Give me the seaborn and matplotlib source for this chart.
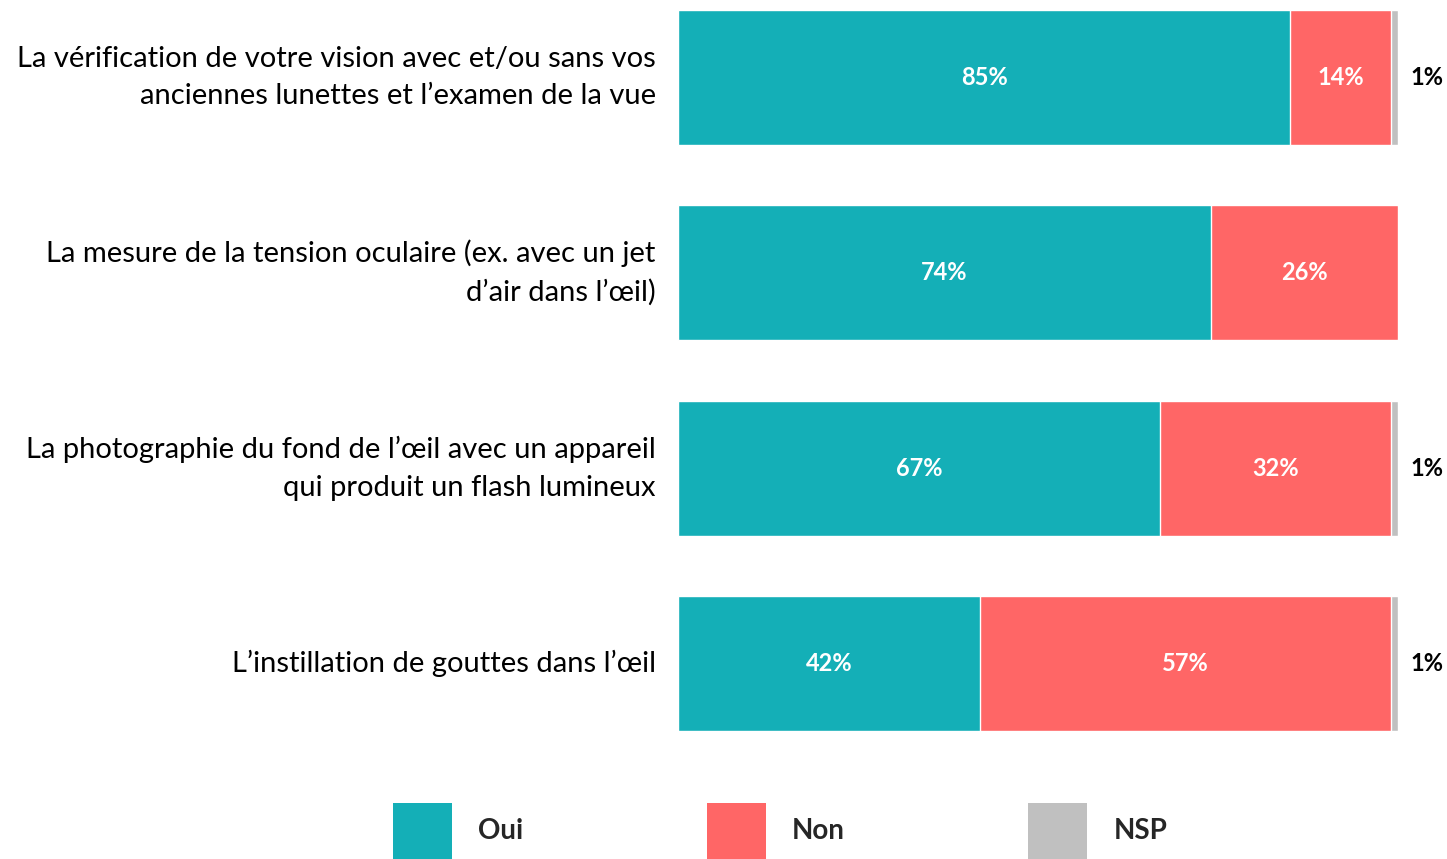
import numpy as np
import pandas as pd
import seaborn as sns
from matplotlib import pyplot as plt
from matplotlib.patches import Patch

# Data
categories = [
    "La vérification de votre vision avec et/ou sans vos\nanciennes lunettes et l’examen de la vue",
    "La mesure de la tension oculaire (ex. avec un jet\nd’air dans l’œil)",
    "La photographie du fond de l’œil avec un appareil\nqui produit un flash lumineux",
    "L’instillation de gouttes dans l’œil",
]
oui = [85, 74, 67, 42]
non = [14, 26, 32, 57]
nsp = [1, 0, 1, 1]
series_names = ["Oui", "Non", "NSP"]
colors = ["#14AFB7", "#FF6666", "#C0C0C0"]

sns.set_style("white")
plt.rcParams["font.family"] = ["Lato", "DejaVu Sans"]

df = pd.DataFrame({"cat": categories, "Oui": oui, "Non": non, "NSP": nsp})
df["cum_non"] = df["Oui"] + df["Non"]
df["cum_nsp"] = df["cum_non"] + df["NSP"]

fig = plt.figure(figsize=(14.47, 8.59), dpi=100)
ax = fig.add_axes([678 / 1447, 1 - 731 / 859, 720 / 1447, (731 - 10) / 859])

bar_h = 0.69
# stacked bars drawn as layered cumulative bars
sns.barplot(data=df, x="cum_nsp", y="cat", color=colors[2], width=bar_h,
            saturation=1, ax=ax)
sns.barplot(data=df, x="cum_non", y="cat", color=colors[1], width=bar_h,
            saturation=1, ax=ax)
sns.barplot(data=df, x="Oui", y="cat", color=colors[0], width=bar_h,
            saturation=1, ax=ax)

for i, row in df.iterrows():
    ax.text(row["Oui"] / 2, i, f"{row['Oui']}%", ha="center", va="center",
            color="white", fontsize=17, fontweight="bold")
    ax.text(row["Oui"] + row["Non"] / 2, i, f"{row['Non']}%", ha="center",
            va="center", color="white", fontsize=17, fontweight="bold")
    if row["NSP"] > 0:
        ax.annotate(f"{row['NSP']}%", (row["cum_nsp"], i), xytext=(9, 0),
                    textcoords="offset points", ha="left", va="center",
                    color="black", fontsize=17, fontweight="bold")

ax.set_xlim(0, 100)
ax.set_ylim(3 + bar_h / 2, -bar_h / 2)
ax.set_xlabel("")
ax.set_ylabel("")
ax.set_xticks([])
ax.tick_params(axis="y", length=0, pad=16, labelsize=21, labelcolor="black")
for t in ax.get_yticklabels():
    t.set_linespacing(1.55)
    t.set_verticalalignment("center")
sns.despine(ax=ax, left=True, bottom=True)

handles = [Patch(facecolor=c, edgecolor="none") for c in colors]
fig.legend(handles, series_names, loc="upper left",
           bbox_to_anchor=(393 / 1447, 1 - 803 / 859), ncol=3, frameon=False,
           borderpad=0, borderaxespad=0, handlelength=2.12, handleheight=2.7,
           handletextpad=0.95, columnspacing=6.6,
           prop={"size": 20, "weight": "bold"})

plt.savefig("out.png", dpi=100)
plt.close()
